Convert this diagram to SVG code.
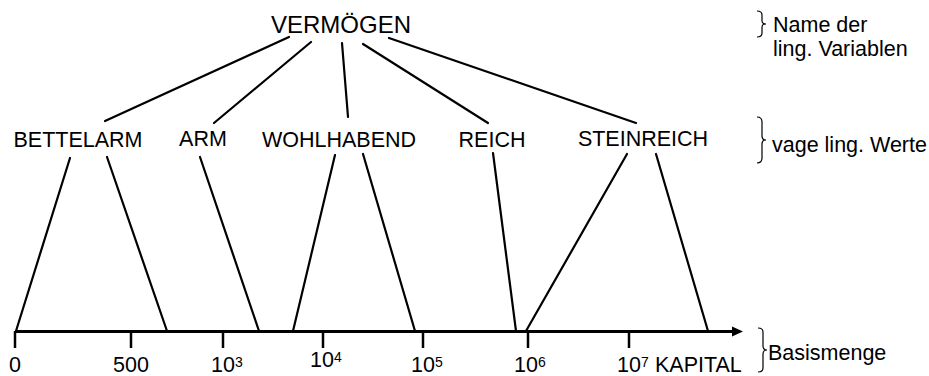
<svg xmlns="http://www.w3.org/2000/svg" width="929" height="376" viewBox="0 0 929 376">
<defs>
<style>
text{font-family:"Liberation Sans",Arial,sans-serif;font-size:21.5px;fill:#000}
.m{text-anchor:middle}
.c line{stroke:#000;stroke-width:2.2;stroke-linecap:round}
.br{fill:none;stroke:#000;stroke-width:1.2}
.ax{stroke:#000;stroke-width:3}
.tk{stroke:#000;stroke-width:2.5}
</style>
</defs>
<rect width="929" height="376" fill="#fff"/>
<g id="vermoegen"><text class="m" x="341" y="33" style="font-size:24px">VERMÖGEN</text></g>
<g id="bettelarm"><text class="m" x="78" y="147">BETTELARM</text></g>
<g id="arm"><text class="m" x="203" y="146">ARM</text></g>
<g id="wohlhabend"><text class="m" x="339" y="147">WOHLHABEND</text></g>
<g id="reich"><text class="m" x="492" y="147">REICH</text></g>
<g id="steinreich"><text class="m" x="643" y="146">STEINREICH</text></g>
<g id="axis">
<line class="ax" x1="15" y1="331.5" x2="734" y2="331.5"/>
<polygon points="732,326.5 743,331.5 732,336.5" fill="#000"/>
<line class="tk" x1="15" y1="331" x2="15" y2="348"/>
<line class="tk" x1="131" y1="331" x2="131" y2="348"/>
<line class="tk" x1="223" y1="331" x2="223" y2="348"/>
<line class="tk" x1="323" y1="331" x2="323" y2="348"/>
<line class="tk" x1="423" y1="331" x2="423" y2="348"/>
<line class="tk" x1="528" y1="331" x2="528" y2="348"/>
<line class="tk" x1="629" y1="331" x2="629" y2="348"/>
<text class="m" x="15" y="372">0</text>
<text class="m" x="131" y="372">500</text>
<text x="211" y="372">10<tspan dy="-5" style="font-size:14px">3</tspan></text>
<text x="310" y="367">10<tspan dy="-5" style="font-size:14px">4</tspan></text>
<text x="411" y="372">10<tspan dy="-5" style="font-size:14px">5</tspan></text>
<text x="514" y="372">10<tspan dy="-5" style="font-size:14px">6</tspan></text>
<text x="617" y="372">10<tspan dy="-5" style="font-size:14px">7</tspan></text>
<text x="655" y="372">KAPITAL</text>
</g>
<g class="c" id="connectors">
<line x1="289" y1="37" x2="105" y2="121"/>
<line x1="311" y1="42" x2="214" y2="123"/>
<line x1="342" y1="43" x2="348" y2="117"/>
<line x1="363" y1="44" x2="488" y2="123"/>
<line x1="389" y1="38" x2="636" y2="123"/>
<line x1="70" y1="158" x2="16" y2="331"/>
<line x1="107" y1="157" x2="167" y2="331"/>
<line x1="200" y1="157" x2="259" y2="331"/>
<line x1="335" y1="155" x2="293" y2="331"/>
<line x1="363" y1="154" x2="415" y2="331"/>
<line x1="493" y1="153" x2="516" y2="331"/>
<line x1="627" y1="154" x2="526" y2="331"/>
<line x1="656" y1="154" x2="708" y2="331"/>
</g>
<g id="legend">
<path class="br" d="M757,11 Q762,11 762,15 L762,21 Q762,24 766,24 Q762,24 762,27 L762,33 Q762,37 757,37"/>
<text x="773" y="32">Name der</text>
<text x="773" y="56">ling. Variablen</text>
<path class="br" d="M757,117 Q762,117 762,122 L762,136 Q762,140 766,140 Q762,140 762,144 L762,158 Q762,163 757,163"/>
<text x="772" y="152">vage ling. Werte</text>
<path class="br" d="M758,328 Q763,328 763,332 L763,346 Q763,350 767,350 Q763,350 763,354 L763,368 Q763,372 758,372"/>
<text x="768" y="360">Basismenge</text>
</g>
</svg>
